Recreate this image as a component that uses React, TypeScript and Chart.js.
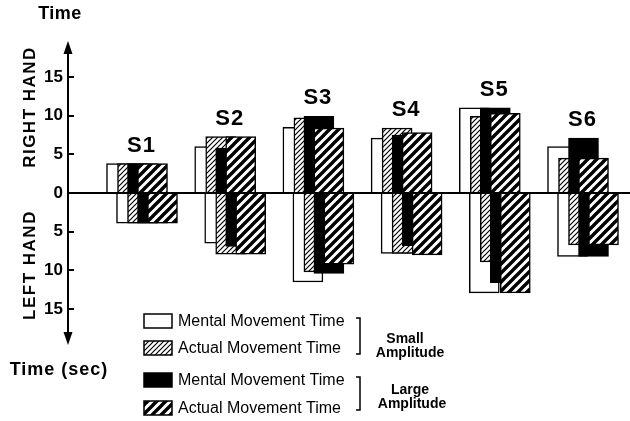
import React, { useEffect, useRef } from 'react';
import { Chart, registerables } from 'chart.js';

Chart.register(...registerables);

// ---- data ----
const subjects = ['S1', 'S2', 'S3', 'S4', 'S5', 'S6'];
// right hand (seconds)
const rightMentalSmall = [3.8, 6.0, 8.5, 7.1, 11.0, 6.0];
const rightActualSmall = [3.8, 7.3, 9.7, 8.4, 9.9, 4.5];
const rightMentalLarge = [3.8, 5.8, 9.9, 7.5, 11.0, 7.1];
const rightActualLarge = [3.8, 7.3, 8.4, 7.8, 10.3, 4.5];
// left hand (seconds, plotted downward)
const leftMentalSmall = [3.9, 6.5, 11.5, 7.8, 12.9, 8.2];
const leftActualSmall = [3.9, 7.9, 10.2, 7.8, 8.9, 6.7];
const leftMentalLarge = [3.9, 6.9, 10.4, 6.8, 11.6, 8.2];
const leftActualLarge = [3.9, 7.9, 9.2, 8.0, 12.9, 6.7];

const yTickValues = [-15, -10, -5, 0, 5, 10, 15];
const legendLabels = ['Mental Movement Time', 'Actual Movement Time', 'Mental Movement Time', 'Actual Movement Time'];
const amplitudeLabels = [['Small', 'Amplitude'], ['Large', 'Amplitude']];

// ---- layout constants ----
const FONT = '"Liberation Sans", Arial, Helvetica, sans-serif';
const PX_PER_GROUP = 88.2;
const KIND_OFFSET_PX = [0, 11, 21, 31];
const LEFT_SHIFT_PX = 10;
const BAR_PX = 30;

function hatch(ctx: CanvasRenderingContext2D, period: number, lw: number) {
  const c = document.createElement('canvas');
  c.width = period;
  c.height = period;
  const g = c.getContext('2d')!;
  g.fillStyle = '#fff';
  g.fillRect(0, 0, period, period);
  g.strokeStyle = '#000';
  g.lineWidth = lw;
  g.beginPath();
  for (const o of [-period, 0, period]) {
    g.moveTo(o - 1, period + 1);
    g.lineTo(o + period + 1, -1);
  }
  g.stroke();
  return ctx.createPattern(c, 'repeat')!;
}

export default function App() {
  const ref = useRef<HTMLCanvasElement>(null);

  useEffect(() => {
    document.body.style.margin = '0';
    const canvas = ref.current!;
    const ctx = canvas.getContext('2d')!;
    const patLight = hatch(ctx, 5, 1.2);
    const patDense = hatch(ctx, 9, 3.4);
    const fills: any[] = ['#ffffff', patLight, '#000000', patDense];

    const right = [rightMentalSmall, rightActualSmall, rightMentalLarge, rightActualLarge];
    const left = [leftMentalSmall, leftActualSmall, leftMentalLarge, leftActualLarge];

    const datasets: any[] = [];
    [right, left].forEach((side, si) => {
      side.forEach((vals, k) => {
        const off = (KIND_OFFSET_PX[k] + (si === 1 ? LEFT_SHIFT_PX : 0)) / PX_PER_GROUP;
        datasets.push({
          label: (si === 0 ? 'Right ' : 'Left ') + legendLabels[k],
          data: vals.map((v, i) => ({ x: i + off, y: si === 0 ? v : -v })),
          backgroundColor: fills[k],
          borderColor: '#000',
          borderWidth: 1.5,
          barThickness: BAR_PX,
          order: 3 - k,
        });
      });
    });

    const decor = {
      id: 'decor',
      afterDatasetsDraw(chart: any) {
        const c = chart.ctx as CanvasRenderingContext2D;
        const xs = chart.scales.x;
        const ys = chart.scales.y;
        const ax = chart.chartArea.left;
        const top = chart.chartArea.top;
        const bot = chart.chartArea.bottom;
        c.save();
        c.fillStyle = '#000';
        c.strokeStyle = '#000';
        // arrow heads
        c.beginPath();
        c.moveTo(ax, top - 5);
        c.lineTo(ax - 4.5, top + 8);
        c.lineTo(ax + 4.5, top + 8);
        c.closePath();
        c.fill();
        c.beginPath();
        c.moveTo(ax, bot + 5);
        c.lineTo(ax - 4.5, bot - 8);
        c.lineTo(ax + 4.5, bot - 8);
        c.closePath();
        c.fill();
        // tick marks
        c.lineWidth = 2;
        yTickValues.forEach((v) => {
          if (v === 0) return;
          const y = Math.round(ys.getPixelForValue(v));
          c.beginPath();
          c.moveTo(ax, y);
          c.lineTo(ax + 6, y);
          c.stroke();
        });
        // subject labels
        c.font = `bold 22px ${FONT}`;
        (c as any).letterSpacing = '1px';
        c.textAlign = 'center';
        c.textBaseline = 'alphabetic';
        subjects.forEach((s, i) => {
          const maxV = Math.max(rightMentalSmall[i], rightActualSmall[i], rightMentalLarge[i], rightActualLarge[i]);
          const x = xs.getPixelForValue(i + 20 / PX_PER_GROUP);
          const y = ys.getPixelForValue(maxV) - 12;
          c.fillText(s, x, y);
        });
        // axis texts
        c.font = `bold 18px ${FONT}`;
        (c as any).letterSpacing = '0.5px';
        c.textBaseline = 'middle';
        c.fillText('Time', 60, 14);
        (c as any).letterSpacing = '1px';
        c.fillText('Time (sec)', 59, 370);
        c.font = `bold 17px ${FONT}`;
        (c as any).letterSpacing = '1.5px';
        [['RIGHT HAND', 107], ['LEFT HAND', 265]].forEach(([t, y]) => {
          c.save();
          c.translate(30, y as number);
          c.rotate(-Math.PI / 2);
          c.fillText(t as string, 0, 0);
          c.restore();
        });
        (c as any).letterSpacing = '0px';
        // legend
        const rowsY = [321, 348, 380, 408];
        rowsY.forEach((y, k) => {
          c.fillStyle = fills[k];
          c.fillRect(144, y - 7, 28, 14);
          c.lineWidth = 1.5;
          c.strokeStyle = '#000';
          c.strokeRect(144, y - 7, 28, 14);
          c.fillStyle = '#000';
          c.font = `16px ${FONT}`;
          c.textAlign = 'left';
          c.fillText(legendLabels[k], 178, y + 1);
        });
        // brackets
        c.lineWidth = 1.5;
        [[318, 354], [377, 410]].forEach(([y1, y2]) => {
          c.beginPath();
          c.moveTo(356, y1);
          c.lineTo(360, y1);
          c.lineTo(360, y2);
          c.lineTo(356, y2);
          c.stroke();
        });
        c.font = `bold 14px ${FONT}`;
        c.textAlign = 'center';
        c.fillText(amplitudeLabels[0][0], 405, 339);
        c.fillText(amplitudeLabels[0][1], 410, 353);
        c.fillText(amplitudeLabels[1][0], 410, 390);
        c.fillText(amplitudeLabels[1][1], 412, 404);
        c.restore();
      },
    };

    const xMin = -(BAR_PX / 2 + 38.5) / PX_PER_GROUP;
    const chart = new Chart(canvas, {
      type: 'bar',
      data: { datasets },
      options: {
        animation: false,
        responsive: false,
        grouped: false,
        layout: { padding: { left: 0, right: 0, top: 46, bottom: 81 } },
        plugins: { legend: { display: false }, tooltip: { enabled: false } },
        scales: {
          x: {
            type: 'linear',
            display: false,
            offset: false,
            min: xMin,
            max: xMin + 562 / PX_PER_GROUP,
          },
          y: {
            min: -19,
            max: 19,
            afterBuildTicks: (s: any) => {
              s.ticks = yTickValues.map((v) => ({ value: v }));
            },
            afterFit: (s: any) => {
              s.width = 68;
            },
            ticks: {
              callback: (v: any) => String(Math.abs(Number(v))),
              color: '#000',
              font: { family: FONT, size: 17, weight: 'bold' },
              padding: 5,
            },
            grid: {
              drawTicks: false,
              tickLength: 0,
              color: (ctx: any) => (ctx.tick && ctx.tick.value === 0 ? '#000' : 'rgba(0,0,0,0)'),
              lineWidth: 2,
            },
            border: { display: true, color: '#000', width: 2 },
          },
        },
      } as any,
      plugins: [decor],
    });
    return () => chart.destroy();
  }, []);

  return (
    <div style={{ width: 630, height: 421 }}>
      <canvas ref={ref} width={630} height={421} style={{ display: 'block' }} />
    </div>
  );
}
